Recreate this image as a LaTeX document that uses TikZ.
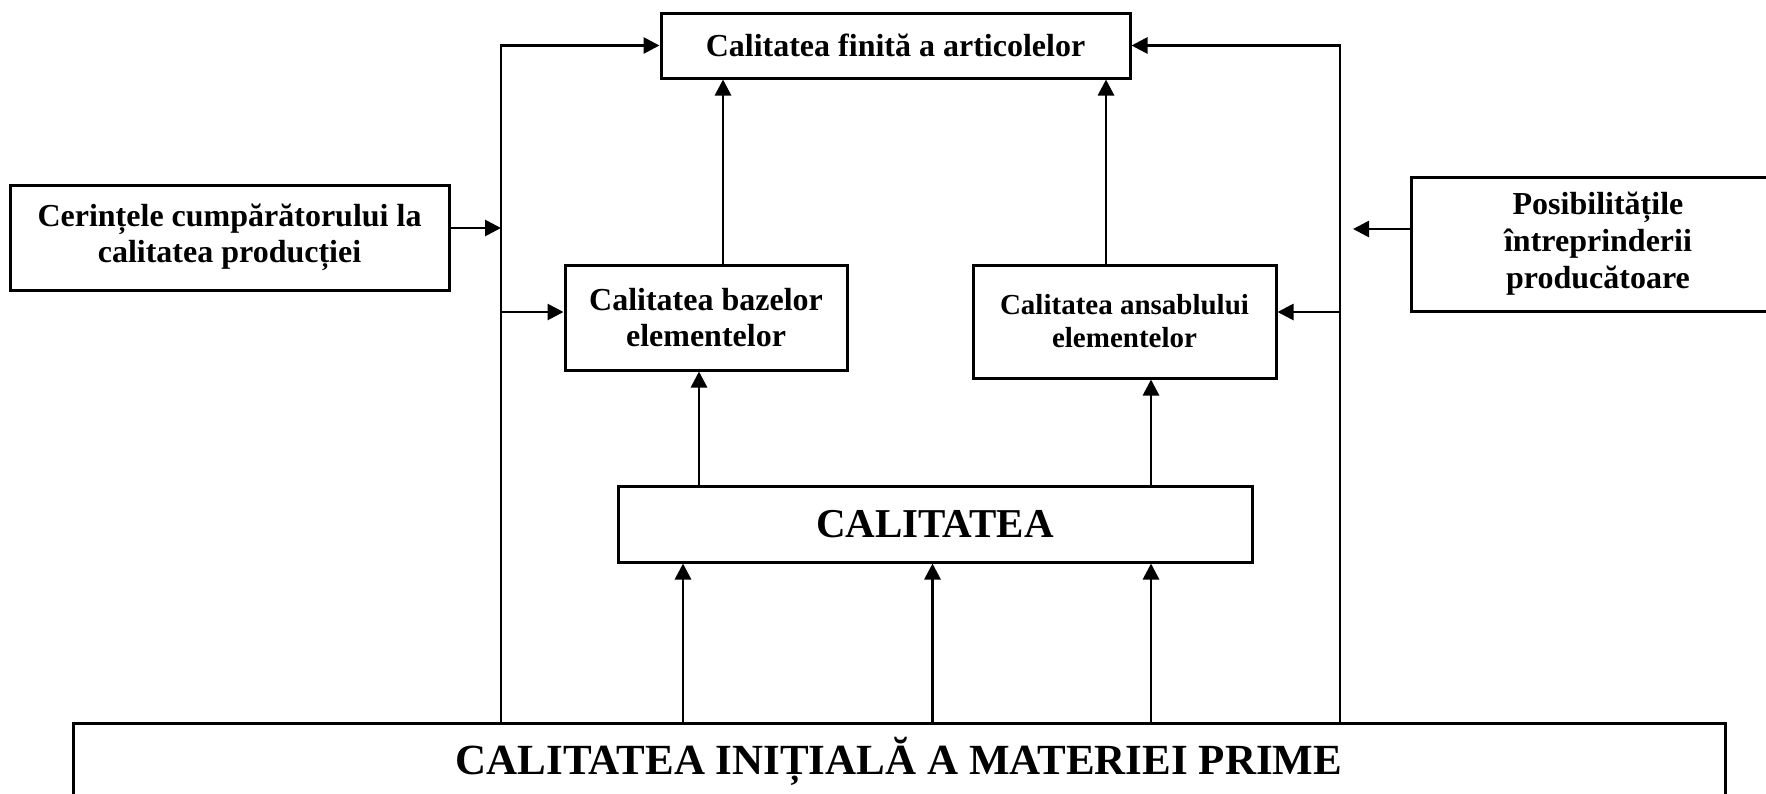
\documentclass[tikz,border=0pt]{standalone}
\usepackage{fontspec}
\setmainfont{Liberation Serif}
\usetikzlibrary{arrows.meta}

\tikzset{
    blok/.style={draw, line width=3pt, align=center, inner sep=0pt,
        font=\bfseries\fontsize{32}{36}\selectfont},
    sageata/.style={-{Triangle[length=16pt,width=16pt]}, line width=2.8pt},
}

\begin{document}
\begin{tikzpicture}[x=1pt,y=-1pt]
    \useasboundingbox (0,0) rectangle (1766,793);
    \clip (0,0) rectangle (1766,793);
    % Blocks
    \node[blok, minimum width=469pt, minimum height=65pt] (finita) at (895.5,45.5)
        {Calitatea finită a articolelor};
    \node[blok, minimum width=439pt, minimum height=105pt] (cerinte) at (229.5,237.5)
        {Cerințele cumpărătorului la\\calitatea producției};
    \node[blok, minimum width=374pt, minimum height=134pt,
        font=\bfseries\fontsize{32}{37}\selectfont] (posib) at (1598,244)
        {Posibilitățile\\întreprinderii\\producătoare};
    \node[blok, minimum width=282pt, minimum height=105pt] (bazelor) at (706,317.5)
        {Calitatea bazelor\\elementelor};
    \node[blok, minimum width=303pt, minimum height=113pt,
        font=\bfseries\fontsize{29}{33}\selectfont] (ansamblu) at (1124.5,321.5)
        {Calitatea ansablului\\elementelor};
    \node[blok, minimum width=634pt, minimum height=76pt,
        font=\bfseries\fontsize{41}{46}\selectfont] (calit) at (935,524) {CALITATEA};
    \node[blok, minimum width=1652pt, minimum height=76pt,
        font=\bfseries\fontsize{43}{48}\selectfont] (initial) at (899,761)
        {CALITATEA INIȚIALĂ A MATERIEI PRIME};
    % Side rails
    \coordinate (stsus) at (501,45.5);
    \coordinate (drsus) at (1340,45.5);
    \coordinate (intrst) at (501,228);
    \coordinate (intrdr) at (1353,229);
    \coordinate (ramst) at (501,312);
    \coordinate (ramdr) at (1340,312);
    \draw[sageata] (initial.north -| stsus) -- (stsus) -- (finita.west);
    \draw[sageata] (initial.north -| drsus) -- (drsus) -- (finita.east);
    \draw[sageata] (cerinte.east |- intrst) -- (intrst);
    \draw[sageata] (posib.west |- intrdr) -- (intrdr);
    \draw[sageata] (ramst) -- (ramst -| bazelor.west);
    \draw[sageata] (ramdr) -- (ramdr -| ansamblu.east);
    % Upward arrows
    \draw[sageata] ([xshift=17pt]bazelor.north) -- ([xshift=17pt]bazelor.north |- finita.south);
    \draw[sageata] ([xshift=-18.5pt]ansamblu.north) -- ([xshift=-18.5pt]ansamblu.north |- finita.south);
    \draw[sageata] (calit.north -| 699,0) -- (bazelor.south -| 699,0);
    \draw[sageata] (calit.north -| 1151,0) -- (ansamblu.south -| 1151,0);
    \foreach \xx in {683,932.5,1151}
        \draw[sageata] (initial.north -| \xx,0) -- (calit.south -| \xx,0);
\end{tikzpicture}
\end{document}
